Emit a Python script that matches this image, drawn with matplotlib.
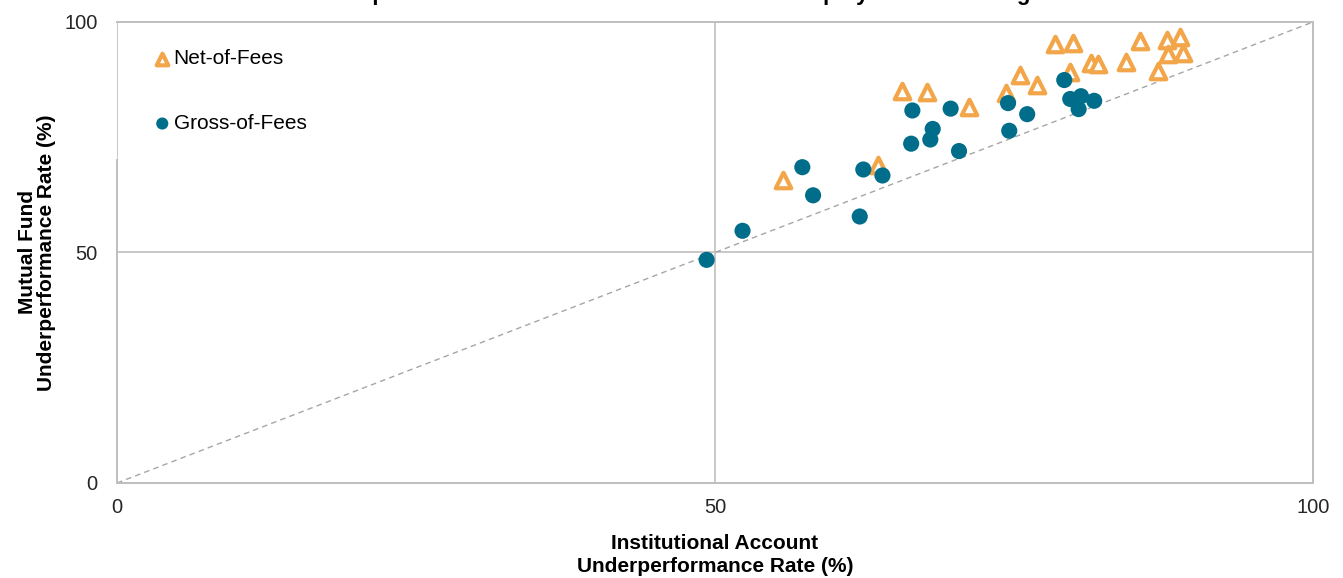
import matplotlib.pyplot as plt

plt.rcParams['font.family'] = ['Liberation Sans', 'DejaVu Sans']

# Net-of-fees (hollow triangles)
net_x = [55.7, 63.6, 65.6, 67.7, 71.2, 74.3, 75.5, 76.9, 78.4, 79.9,
         79.7, 81.4, 82.0, 84.4, 85.5, 87.8, 88.9, 87.9, 89.1, 87.0]
net_y = [65.7, 69.0, 85.1, 84.7, 81.5, 84.5, 88.4, 86.3, 95.2, 95.5,
         89.2, 91.2, 90.8, 91.3, 95.9, 96.1, 96.8, 93.0, 93.2, 89.4]

# Gross-of-fees (filled circles)
gross_x = [49.3, 52.3, 57.3, 58.2, 62.1, 62.4, 64.0, 66.4, 66.5, 68.0, 68.2,
           69.7, 70.4, 74.5, 74.6, 76.1, 79.2, 79.7, 80.6, 80.4, 81.7]
gross_y = [48.4, 54.7, 68.5, 62.4, 57.8, 68.0, 66.7, 73.6, 80.8, 74.5, 76.8,
           81.2, 72.0, 82.4, 76.4, 80.0, 87.4, 83.3, 83.9, 81.1, 82.9]

ticks = [0, 50, 100]
orange = '#F2A649'
teal = '#006E8A'
gray = '#BFBFBF'

fig = plt.figure(figsize=(13.43, 5.78), dpi=100)
ax = fig.add_axes([0.0871, 0.1644, 0.8906, 0.7976])

ax.plot([0, 100], [0, 100], color='#A6A6A6', lw=1, ls=(0, (4, 3)), zorder=1)
ax.scatter(net_x, net_y, marker='^', s=125, facecolors='white',
           edgecolors=orange, linewidths=3, label='Net-of-Fees', zorder=3)
ax.scatter(gross_x, gross_y, marker='o', s=135, color=teal,
           edgecolors='none', label='Gross-of-Fees', zorder=4)

ax.set_xlim(0, 100)
ax.set_ylim(0, 100)
ax.set_xticks(ticks)
ax.set_yticks(ticks)
ax.tick_params(length=0, labelsize=14.5, labelcolor='#262626')
ax.tick_params(axis='x', pad=11)
ax.tick_params(axis='y', pad=14)
ax.grid(True, color=gray, lw=1.2, zorder=0)
ax.set_axisbelow(True)
for sp in ax.spines.values():
    sp.set_color(gray)
    sp.set_linewidth(1.4)
# the legend area in the original hides the top of the left axis line
ax.spines['left'].set_bounds(0, 70)

ax.set_xlabel('Institutional Account\nUnderperformance Rate (%)',
              fontsize=15, fontweight='bold', labelpad=12, linespacing=1.25)
ax.set_ylabel('Mutual Fund\nUnderperformance Rate (%)',
              fontsize=15, fontweight='bold', labelpad=6, linespacing=1.0)

ax.legend(loc='upper left', bbox_to_anchor=(0.0309, 0.941),
          fontsize=15, markerscale=0.75, handlelength=0.8,
          handletextpad=0.15, labelspacing=2.2, borderpad=0,
          borderaxespad=0, frameon=False)

# title, cut off at the top edge of the image
fig.text(0.2405, 1.0,
         'Comparison of Mutual Fund and Institutional Equity Account Categories',
         fontsize=16, fontweight='bold', ha='left', va='baseline')

fig.savefig('out.png', dpi=100)
